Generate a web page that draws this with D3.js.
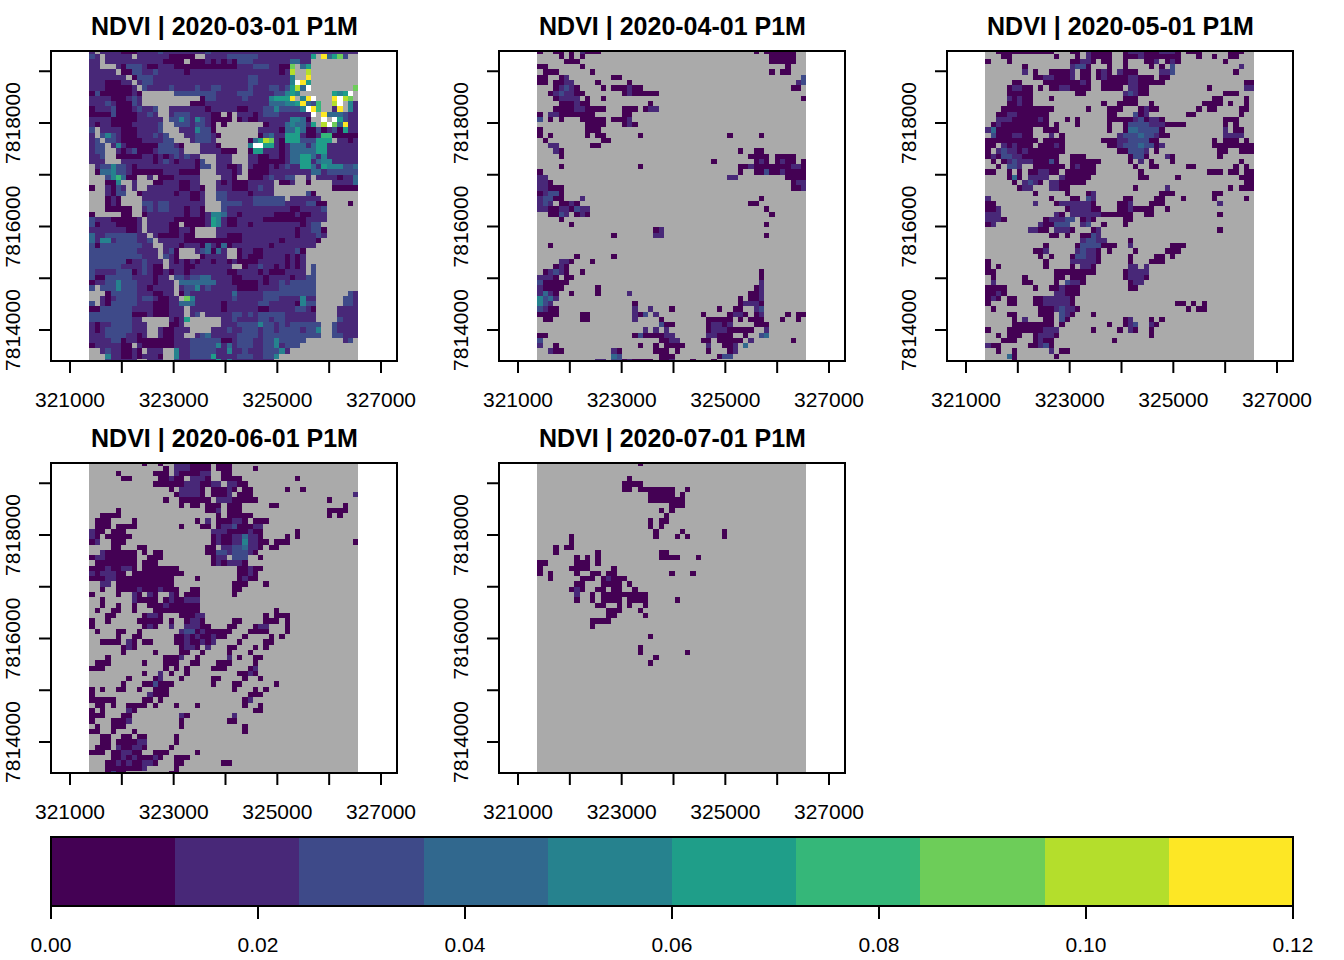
<!DOCTYPE html>
<html>
<head>
<meta charset="utf-8">
<script src="https://cdn.jsdelivr.net/npm/d3@7"></script>
<style>
  body { margin: 0; background: #fff; }
  text { font-family: "Liberation Sans", Arial, sans-serif; fill: #000; }
</style>
</head>
<body>
<script>
// each row lists the runs of cells: "from-to:class", class 0 when left out,
// g = no data (grey), w = above the colour range (white), other cells take the panel's base
var mar01 = [
"1:g 6-8 13:2 22:2",
"0:2 2:g 8:g 15-19 20-21:g 26-31:2 42:5 43:g 44:9 45:3 46:5 47:7 48:2 49-50:g",
"2:g 14-17 18:g 19-21 23 25 27 28-30:2 38-39:3 42-50:g",
"2-4:g 6 7-9:2 11-12 16-27 31-33:2 36-37 38:7 39:g 40:3 41:5 42-50:g",
"5:g 6-7 8-9:2 12:2 18 36 38:8 39-40:g 41:8 42-50:g",
"7:g 8 9-11:2 30-31:2 38:4 39-40:g 41:9 42-50:g",
"3-5 8:g 10-11:2 30-31:2 38:4 39:w 40:9 41:5 42-50:g",
"3-7 9:g 10:2 15:2 20:2 23-24:2 30:2 34-35:2 37:2 38:5 39:8 40:3 41:w 42-49:g 50:7",
"0 1:2 2-7 9 10-15:g 16-23:2 28-30:2 35-36:2 37:4 38:5 39:4 40-45:g 46:5 47:4 48:5 49:w 50:g",
"4-6 8:2 10-20:g 21 22-23:2 29:2 34:4 35-37:5 38:9 39:g 40:4 41:9 42:w 43-45:g 46:9 47:w 48:8 49:7 50:g",
"3:2 5-7 8:2 10-18:g 19-21 34-36:3 37-38:4 39:5 40:9 41:3 42:2 43:6 44-45:g 46:8 47:w 48:g 49:4",
"0 4:2 5-7 9:2 12:2 13-14:g 22 28-29 33-34:2 35:4 36-39:2 40:4 41:w 42:9 43:6 44-45:g 47:9 48:g 49:4",
"0-3 4:2 5-8 11:2 13-14:g 16-18:2 23-24 25:g 26 27:g 31 33-35:2 42:w 43:g 44:9 45-47:3 48:2",
"4-8 14:g 15-16:2 17:4 18:2 20:4 21:2 23-26 27:g 28 30-31 38-39:4 40:3 41 42-43:g 44:w 45:g 46:w 47:5 48:2",
"1 4-7 13:2 14-15:g 16-18:2 20-21:2 23 24:g 25 26-32:g 33 37:3 38:4 39-40:3 42:5 43:g 44:8 45:w 46:7 47:3 48:9",
"0:2 1:g 6-8 13:2 14-16:g 20:4 21-22:2 23 24-31:g 36 37-38:3 39:5 40:3 41-42 43:2 44 46:2 47 48:5",
"1:g 2:2 3:4 4:2 6-8 12:2 14:2 15-17:g 20-22:2 24 25-31:g 32 33:2 34:3 37-39:5 41-42 44-45:6 46-50",
"1:2 2:g 3-4:2 6-9 14-15:2 16-18:g 20-22:2 24-29:g 30 31:3 32:5 33:8 34:7 36 37-39:5 40-42:2 43-45:5 46:g 49",
"1-2:2 3:g 5:4 7-12 13-15:2 17 18-20:g 24 25-29:g 30:4 31-32:w 33-34:5 36 38-40:3 42:3 43-44:5",
"1-2:2 3-4:g 6 8:2 9-11 13-16:2 18-20:g 25-27 28-29:g 30 31-32:5 36 38-42:3 43-44:5",
"2:2 3-4:g 5-9 12 14 16:2 18:2 21-23:g 27-29:g 32-33 36 38-39:3 40-41:5 42:3 44:4",
"3-5:g 12 14:2 16 20 21:2 22-23:g 27-29:g 32-36 38-39:3 40-41:5 43:3 44-45:4",
"0:g 2-3:2 4:4 5-6:2 8 20 21-22:2 23:g 26-27 29:g 31-33 35 37:2 40-41:5 42:3 44:5 45-47:4 48-49:2 50:3",
"0:g 1 2-3:3 4:4 5-6:2 8-13 17-20 21-23:g 27 29:g 30-33 42-43:3 45-50:2",
"0-2:g 3:2 4:4 5:6 6:3 7-8 9-10:g 12:g 13-15 21-24:g 27 28-29:g 30-32 34:2 37-38:2 39-40:g 42:g 47 50:3",
"0-2:g 3-4 5:4 6-7:g 9-11:g 12-13 17-18 21-23:g 25 27-29 35:g 36-37 39-40:g 41 42-45:g 50:3",
"0 1-2:g 4 5:2 7:g 9-10:g 17-18 21 22-23:g 27-29 32:2 35-45:g 46-50",
"0-2:g 4 5-6:2 7-8:g 9 16 19-20 22-23:g 24-25:2 30 35-40:g 41:2 42 43-50:g",
"0-2:g 3 5 6-9:g 19-20 22-23:g 24-25:2 31-36:2 37:g 44-50:g",
"0-2:g 3 5 6-9:g 10-11:2 13-14:2 22-24:g 25-28:2 31-36:2 41-42:2 43-44 45-48:g 49 50:g",
"0-2:g 3-7 8-9:g 11:2 13-14:2 18 21 22-24:g 25:2 38-39 44:2 45-50:g",
"0 1-5:g 6-7 8-9:g 10 18 21 23-24:4 25:3 28 35-38 40-41 45-50:g",
"0:2 4-8 10:g 16-17 18-21 23:5 24:4 26-27 33-40 45-50:g",
"0:2 1 5-8 10:g 15-16 17:g 18-21 23:5 24:4 26-27 30 40 42-43:2 44-50:g",
"7-8 10:g 15-16 19-21 20-23:g 39 42-43:2 44 45-50:g",
"0:3 3-8:2 11:g 13-16 18-19 20-23:g 26-28 39 43:2 45-50:g",
"0:3 2-3:4 5-8:2 11:2 12:g 18-24 25-28 36 43 44-50:g",
"0:2 1 2-9:2 12-13:g 17 21 22:3 24 25:3 26 34 43-50:g",
"0-8:2 13:g 15:2 16 17-19:g 21:2 22:3 23 24:3 26-27:g 28 31-32 39:2 40 41-50:g",
"0-9:2 13:g 14:2 16 17-20:g 21 26-27:g 28 30-32 37 39 41-50:g",
"0-6:2 7 10:2 14:g 16 18 20 23 26 28-31 37 39 41-50:g",
"0-5:2 10:2 12-13 14:g 18-19 27-28:g 29 32:2 35 37 39 41:g 42:2 43-50:g",
"0:2 5-7:2 8 10:2 12-13 15 18 26-27 32 34-36 41:g 42:2 43-50:g",
"0:2 1-2 3-7:2 12 15:g 16-17:2 19-20:2 21-22:3 27-28 33 38 41-42:2 43-50:g",
"0 3-8:2 5:4 12 16:g 17-20:3 21-23:3 27-31 33 36:2 38-40:2 41-42:2 43-50:g",
"0:2 1:g 2-8:2 5:4 11 16:g 18-19:2 20:4 22:2 28-31 36-42:2 43-50:g",
"0-2:g 3 4-8:2 12-13 16:g 17 18:2 27:3 33-42:2 43-48:g 49:2",
"0-1:g 3 5-8:2 10-11:2 13-14 17:g 18:7 19:4 27:2 33-35:2 40:4 43-47:g 48-49:2",
"0:2 1:g 3 4-8:2 12-14 17-19:3 25 32-33:2 39 40:4 41-42:2 43-47:g 48-49:2",
"0-1 2-7:2 12-14 18:g 25 32-33 39-40:2 42 43-46:g",
"0-7:2 8-10 12-14 18:g 20:2 21:g 27-28:2 30:2 32-36:2 43-46:g",
"0-7:2 10-14:g 16 18:5 19-24:g 27:2 32-33:2 35-36:2 43-46:g 47:2",
"1 4-7:2 11-14:g 15-16 18-24:g 28-31:2 32:4 33-34:2 36:2 38-43:2 44-45:g 46:2",
"1 3-7:2 11-12:g 14-15 19-22:g 26:2 29-31:2 33-34:2 36-39:2 41-42:2 43:4 44-45:g 46:2",
"3-6:2 9 11-12:g 14-15 18-19:g 21:2 22:3 28-31:2 33-43:2 44-45:g 46-47:2",
"4-5:2 6 9-15 19-24:2 25-26 28-30:2 33-34:2 35:4 36-40:2 41-47:g 48:1 49:2 50:g",
"0 6-7 8:g 10-15 19-23:2 24:4 26:3 28-30:2 33-34:2 35:4 37-39:2 40-50:g",
"0-1:g 3:2 6-7 9 10:g 14-15:g 16:4 19-23:2 26:4 29:2 33-35:2 36:4 38-50:g",
"0-2:g 3:4 6-7 9 13 14-15:g 16:4 19-22:2 23:5 28-30:2 33-34:2 35:4 36-50:g",
"0-2:g 3:2 9-10:g 14-15:g 16:2 24:5 26:4 35-50:g"
];
var apr01 = [
"0 3-4 6 8:1 9-11 41 43-48",
"4 6 8 44-48",
"5-7 44-48",
"0-1 8 47",
"1-3 10 44 46-47",
"0-1 4 5:1 14-15 50:2",
"0-1 3-4 5-6:1 11 17 49:1 50:2",
"3 4:1 5:2 6:1 7 12 14-16 17:1 18-19 48-49",
"2 3:1 4:2 5-6:1 7-8 16 17:1 18-22",
"3 4-7:1 9 12 50",
"4-6 7:1 8-9 21",
"3-6 7-8:1 9-12 16-18 20 21-22:1",
"0 2-3:1 4-10 16-17",
"0:2 2 4 8-12 14-16 17:1",
"9-12 16 17:1 18",
"0 9-11",
"0 2 9 11-12 19 36 42",
"1 12-13",
"2-3:1 10-11",
"3:1 4 38 41-42",
"4 40-43 45-48",
"33 41 42:1 43 45 46:1 47-48 50",
"4 19 38-39 40:1 41-47 48-49:1 50",
"0 38 41-42 43:2 44-45 46:1 47-50",
"0-1:1 36-37:1 47-50",
"0-1:1 2 48 49-50:1",
"0-1:1 2-4 48-49 50:1",
"0 1:1 2-3:2 4",
"0:1 1-2:2 3-4 8:1 42",
"0:1 1:2 2:1 4-5 6:1 7 40-41",
"0-1:1 2-3 4-5:1 6 7:2 8-9:1 43",
"2-3 4:2 5:1 7 8:1 9 44",
"4",
"6 43",
"22 23:1",
"14 22-23:1 43",
"",
"2",
"",
"7 14",
"4-5:1 6 10",
"3 4:1 5",
"1 2:1 3:2 4:1 5 8 42",
"0-2:1 3 5-6 42",
"0:2 1-3 4-5 42:1",
"0:1 1-4 11 41 42:1",
"0:1 1:3 2:1 3 6 11 17:1 40-41 42:1",
"0:4 1:2 2:3 3:1 38 40-41 42:1",
"0:4 1:2 2:1 18 38 39-41:1 42",
"0:2 1:1 2-3 18:1 21:1 25 34 37-38 41:1 42:2",
"0-3 8-9 18:1 19 20:2 22:1 31 36 37-38:1 39 41 42:1 47 49-50",
"1-2 8-9 18:1 23 32-36 38 40-42 46 49",
"23:2 24-25 32 33-34:1 35 36:1 41-43",
"20:1 22:1 24:1 32 33-35:1 36-40 43:1",
"0-1 18 19:2 20-23 24-25:1 32-33:1 34-36 39 42:2 43:3",
"0:2 23-24 25-26:1 31-32 34-38 40:1 48",
"0:1 3 19 22 24-27 32:1 35-36 37:1 39:3",
"2:1 3-4 14:1 15 22-24 26 32 36 37:1",
"14:3 15:2 23-25 34 35-36:2",
"11-12:1 14-15:2 16-21 17:1 23-24 25:1 29 33"
];
var may01 = [
"2-12 16-17 19:1 20-22 23 26 27-29:1 30-32 33-35:1 36 38-40 46-48",
"3-4 13 17 19:1 20-22 23 26-28 29:1 30-36 40 43 46-47",
"0 4 16-17 18-19:1 20 22-23 26 30-31 32:1 34 35:1 36 45",
"7 16:1 17-18:2 19 23 26 31 33 35:2 48:1",
"7:1 9 12-15 16:1 18-19 21 22:1 23 25:1 26-28 33-34:1 35:2 47",
"9-10 11-12:1 13-15 16:1 18-19 21 22:1 23-26 27-28:1 29-31 33-34",
"5-6 11-15 16-17 18:1 19 22-26 27-28:1 29-33 49-50",
"4 5-6:1 7-8 10 12-13 14-15:1 16-19 22-25 27-28:1 29-30 42 49-50:1",
"4-8 17-18 26:1 27:2 28:1 29-30 45-47",
"4:1 5 6:1 7-8 12 26-28 43-44 49",
"4-5 6:1 7-8 22 25-28 31 41-44 46 49",
"3-12 19 23-25 29 30:1 31-32 40 42-43 48-49",
"2-3 4-5:1 6-11 23-24 28:2 29 30:1 38-39 48",
"2-4:1 5-9 10:1 11 15 17 23-27 28:1 29:2 30 31-32:1 33 45-47",
"1 2:1 3-11 13 17 23 26 27-29:2 30:2 31-33:1 34-37 45 47",
"0:1 1:3 2-8 11-13 23 26 27-28:3 29-32:2 33 45:1 47-48",
"1:2 2-4 5-6:1 7-8 12:1 14 25:1 26-28:2 29:3 30-31:2 32:1 33-34 45-48:1",
"0-2 3-9 11-14 22-24 25-26:1 27-30:2 31-32 43 45-47 49",
"0-1 3:1 4 5:1 6-8 10-12 13:1 14 23-24 25:1 26-28:2 29:3 30-31:2 32 33:1 43-47 48-50",
"0 2:1 3:2 4-5:1 6 7:1 8-14 25-26 27-29:2 30:1 32 44-45 48-50",
"0 1:1 2 3-4:2 5-6:1 7-13 16-18 27 28-29:2 30 34:1 35 44",
"1 3 4:1 5:2 6-8:1 9-11 12:2 13 16-21 27 29:1 31 35 48",
"2 4-5:2 6:1 9-14 16 17:1 18-20 28 31-32 38-39 47 49",
"0-1 4 6 8-9 10-11:1 12-13 15-20 29 42-44 46-47 49-50",
"4 5:3 6 8-11:1 14:1 15-19 29-30 36 48-50",
"5 7:1 8:2 9:1 10 12-13:1 14-18 49-50",
"6 7-8:1 12-13:1 14-15 28 34:1 46 48-50",
"9 15 19 20:1 33-35 43-44",
"0:1 12 16-17 19:2 20:1 26-27 32-33 37 43 49",
"0-1 9:1 13 14-17:1 18-19:1 20 25-26 27:1 31-33 44:1",
"0-1 2:1 15 16-19:1 20-21 25-26 27:1 28-31 34",
"0-2:1 13:1 14 16-19:1 20-21:1 22-27 30-31 44",
"0-2:1 3 11 12-14:1 15-16:2 18 19:1 20 26-27",
"0 1:1 10:1 11-12 13-15:2 18:1 19:2 22 26",
"8-9:1 10-11 13-15:1 16 20 21:1 44",
"12-13 15 18-19 20:2 21:1",
"18:1 19-20:2 21-22:1 27",
"11 17 18-21:2 22-24 27:1 35-37",
"9-10 11:1 17:1 18:2 19-20:1 21 23 28 34-36",
"10 12 16 17-18:2 19-20:1 21 27 32-33 35",
"0 11 16-20:1 21 27 31-33",
"0 2 11 16 18-19:1 20 27-28:1 30:1",
"0-1 13-18 19 20 26 27-30:1",
"1 7 13-14 16-18 26 27-29:1 30",
"1:1 7-8 13 15:2 16-17:1 18 27 28-29:1",
"0-3 9 12-13 14:1 15-17 27-28",
"0-1 2:1 3 13-14:1 15-17",
"0 1:1 2 4-5 9-10 11-15:1 16",
"0 4-5 9-10 11-15:1 16 36-37 39 41",
"1 10-12 13:1 14:2 15-16:1 17 38 40-41",
"4-5 10-12 14:2 15:1 16 20",
"5 7:1 11-12 14:2 15 26 27:1 31 33",
"5-10 11-12 14 23 26 27:1 28:2 31:1 32",
"0 4-7 8-10 11-13:1 20 25 27:1 28 31",
"2 4-6 9 10-12:1 13 31",
"3-5 9 10:1 11-12 24",
"0:1 1-2 8-9 10:1 11:2 12",
"2 5 12:1 14-15",
"4:3 5 13",
"5"
];
var jun01 = [
"10 13 16-18:1 19-22 24-26",
"14 16-18:1 19-22 24-26 31",
"5 12-14 16:1 17-18 19-20 21-22:1 25-26",
"6-7 13-14 15:1 16-17 19-21:1 22 25-28 39",
"12-15 16-17 18-20:1 21-22 23-24:1 26-27:1 28-29",
"15 17-20:1 21 23-25 26:1 27 29-30 37 40",
"16 17-20:1 21 23-25 26:1 28-30 50:1",
"14 17-22 24-26:1 27-31 45",
"17 19-20 22-24 26-28 34-35 48",
"5 22-23 24:1 26-28 45-48",
"2-5 24 26-30 45 47",
"1-3 8 20 22:1 24-26 27-28:1 29 31-33",
"1-3 5-8 17 21-22 24 25-26:1 27:2 28-30 31-32:1",
"0:1 1-2 4-6 23-25:1 26-29 30:1 31-32 39",
"0:1 1 3-7 23 24:1 25-26 27-28:1 29:3 30-31:1 32 37 39",
"0 1:1 4-6 23 24:1 25-26 27-28:1 29:4 30-31:1 32-33 35-37 50",
"4-5 9-10 22-23 25-26:1 27-28:2 29:3 30-31:1 32 34-35",
"2:1 3-8 10 12-13 22-23 24-25:2 26:1 27-29:2 30:1 31",
"0 1-2:1 3-8 11-13 23 24-25:1 27-29:2 32",
"1-8 10-12 23 24:1 25 26-28:1 29",
"0-2 3:1 4-5 6-7:1 8 10-16 28 29 30:1 31-32",
"0:1 1 2-4:1 5-6 8-17 28-29 30:1 31",
"0-2 3-4:1 5-15 20 28 29:1 30-31",
"2-3:1 5-15 27-29 33",
"2 5-8 9:1 10-12 13:1 14-16 19-20 27-28",
"0 5 8:1 9 11:1 12 15:1 16 18-20 27",
"2 8:1 9-12 14 15:1 16-17 18-20:1",
"2 5 8 11-13 14:1 15-20",
"1 4-5 8 12-20 35",
"3-4 10 11-12:1 13 17-19 20-21:1 33 35-37",
"0 3 9-13 15 18 19-20:1 21 27-28 33-35 37",
"0 10 11:1 12 15:1 18:1 19-20:1 21-22 26-27 31 32-33:1 37",
"1 5-6 9 17:1 18-19:2 20 21:1 22-26 30-33 37",
"5 8-9 16-17 18:1 19 20:1 21-22 23:1 24-25 29 34 36",
"2-5 7:1 8 10-11 16-17 18:1 19-20 21:1 22 23:1 28 33-34",
"6 7:1 8 17 18-19:1 20 22:1 26-27 31 33",
"6 12 17-18 21 26 30",
"3 14-16 17:1 20 26:1 28 31-32",
"1-3 10 14-16 19-20 24-26 31",
"0-2 14 16 18 23-25 30 31:1",
"10 13:1 15 18 28-29 30:1 31",
"7 12 13:1 17 23-24 29 32",
"6 10-11 12:2 13-15 23 27-28 35",
"0 2 5-6 9 12-14 27 31 33",
"0 11:1 12-14 30-32",
"0-4 10-11 13 29 30:1",
"1-2 4 7-10 12 16 20 29 32",
"0 2 7:1 8 31-32",
"0-2 6-7 17:1 18 27:1",
"0 4-6 7:1 17 26-27",
"1 4-6 17 29",
"0-1 4 8 29",
"2-3 6-7 9-10 16",
"2-3 5-8 9-10:1 16",
"1-3 5:1 6-7 8-9:1 10 15",
"0-2 4-5 6-7:1 8-9 12-14 20",
"4-5 6:1 7 8:1 9-11 12:1 13 16-18",
"3-4 5:1 6 7:1 8-9 10-11:1 12 16-17 25-26",
"3-9 10:1 16",
"3 4:2 5-6 15-16"
];
var jul01 = [
"19","","","17","16-19","16-17 19-25 28","21-25 27","21-27","25-27","23 25","24","21 23-24","21 23",
"22 27 35","6 22 26 28 35","6","3 5-6","3 11 23-24","7 9 11 23-26 30","0-1 7-9 11","0 6-9 14",
"0 2 7 10-11 13-14 25 29","2 8-10 12 13:1 14-16","7-8 12-15 17","6 7:1 8 11-12 14-15 18",
"7:1 10 12-20","7 10 12-15 17-20 26","11-12 15 17 20","13-15 19","13-14 20","10-13","10","",
"21","","19","19 28","22","21","","","","","","","","","","","","","","","","","","","","",""
];

var panels = [
  { title: "NDVI | 2020-03-01 P1M", rows: mar01, base: 1 },
  { title: "NDVI | 2020-04-01 P1M", rows: apr01, base: "g" },
  { title: "NDVI | 2020-05-01 P1M", rows: may01, base: "g" },
  { title: "NDVI | 2020-06-01 P1M", rows: jun01, base: "g" },
  { title: "NDVI | 2020-07-01 P1M", rows: jul01, base: "g" }
];

var xTicks = [321000, 322000, 323000, 324000, 325000, 326000, 327000];
var xLabels = [321000, 323000, 325000, 327000];
var yTicks = [7814000, 7815000, 7816000, 7817000, 7818000, 7819000];
var yLabels = [7814000, 7816000, 7818000];
var legendBreaks = [0, 0.012, 0.024, 0.036, 0.048, 0.06, 0.072, 0.084, 0.096, 0.108, 0.12];
var legendTicks = [0, 0.02, 0.04, 0.06, 0.08, 0.1, 0.12];
var viridis10 = ["#440154", "#482878", "#3E4A89", "#31688E", "#26828E", "#1F9E89", "#35B779", "#6DCD59", "#B4DE2C", "#FDE725"];

var xOrigin = 321376, yOrigin = 7819441, cell = 101.7; // raster corner and cell size, metres
var nCols = 51, nRows = 60;

var width = 1344, height = 960;
var panelW = 346, panelH = 310;

var svg = d3.select("body").append("svg")
    .attr("width", width)
    .attr("height", height)
    .style("display", "block");

svg.append("defs").append("clipPath").attr("id", "frame")
  .append("rect").attr("width", panelW).attr("height", panelH);

var x = d3.scaleLinear().domain([321000, 327000]).range([19, 330]);
var y = d3.scaleLinear().domain([7814000, 7818000]).range([279, 72]);

function cellColor(c) {
  if (c === "g") return "#AAAAAA";
  if (c === "w") return "#FFFFFF";
  return viridis10[c];
}

function parseRow(text, r, base) {
  var row = d3.range(nCols).map(function() { return base; });
  text.split(" ").filter(Boolean).forEach(function(tok) {
    var parts = tok.split(":"), span = parts[0].split("-");
    var from = +span[0], to = span.length > 1 ? +span[1] : from;
    var c = parts.length > 1 ? (parts[1] === "g" || parts[1] === "w" ? parts[1] : +parts[1]) : 0;
    for (var i = from; i <= to && i < nCols; i++) row[i] = c;
  });
  return row.map(function(c, i) { return { r: r, c: i, v: c }; });
}

panels.forEach(function(p, i) {
  var g = svg.append("g")
      .attr("transform", "translate(" + (51 + 448 * (i % 3)) + "," + (51 + 412 * Math.floor(i / 3)) + ")");

  var cells = d3.merge(p.rows.map(function(t, r) { return parseRow(t, r, p.base); }));

  g.append("g").attr("clip-path", "url(#frame)")
    .selectAll("rect").data(cells).enter().append("rect")
      .attr("x", function(d) { return x(xOrigin + d.c * cell); })
      .attr("y", function(d) { return y(yOrigin - d.r * cell); })
      .attr("width", function(d) { return x(xOrigin + (d.c + 1) * cell) - x(xOrigin + d.c * cell); })
      .attr("height", function(d) { return y(yOrigin - (d.r + 1) * cell) - y(yOrigin - d.r * cell); })
      .attr("fill", function(d) { return cellColor(d.v); })
      .attr("shape-rendering", "crispEdges");

  g.append("rect")
      .attr("width", panelW).attr("height", panelH)
      .attr("fill", "none").attr("stroke", "#000").attr("stroke-width", 2);

  var xAxis = d3.axisBottom(x).tickValues(xTicks).tickSize(12).tickPadding(19).offset(0)
      .tickFormat(function(d) { return xLabels.indexOf(d) >= 0 ? d : ""; });
  var ax = g.append("g").attr("transform", "translate(0," + panelH + ")").call(xAxis);
  ax.select(".domain").remove();
  ax.selectAll("line").attr("stroke", "#000").attr("stroke-width", 2);
  ax.selectAll("text").attr("font-size", 21).attr("font-family", "Liberation Sans").attr("fill", "#000");

  var yAxis = d3.axisLeft(y).tickValues(yTicks).tickSize(12).tickPadding(0).offset(0)
      .tickFormat(function(d) { return yLabels.indexOf(d) >= 0 ? d : ""; });
  var ay = g.append("g").call(yAxis);
  ay.select(".domain").remove();
  ay.selectAll("line").attr("stroke", "#000").attr("stroke-width", 2);
  ay.selectAll("text")
      .attr("font-size", 21).attr("font-family", "Liberation Sans").attr("fill", "#000")
      .attr("x", null).attr("dy", null).attr("text-anchor", "middle")
      .attr("transform", "translate(-31,0) rotate(-90)");

  g.append("text")
      .attr("x", 173.5).attr("y", -16)
      .attr("text-anchor", "middle")
      .attr("font-size", 25).attr("font-weight", "bold")
      .text(p.title);
});

// colour bar
var lx = d3.scaleLinear().domain([0, 0.12]).range([51, 1293]);
var legend = svg.append("g").attr("transform", "translate(0,837)");
legend.selectAll("rect").data(viridis10).enter().append("rect")
    .attr("x", function(d, i) { return lx(legendBreaks[i]); })
    .attr("width", function(d, i) { return lx(legendBreaks[i + 1]) - lx(legendBreaks[i]); })
    .attr("height", 69)
    .attr("fill", function(d) { return d; })
    .attr("shape-rendering", "crispEdges");
legend.append("rect")
    .attr("x", 51).attr("width", 1242).attr("height", 69)
    .attr("fill", "none").attr("stroke", "#000").attr("stroke-width", 2);
var lAxis = d3.axisBottom(lx).tickValues(legendTicks).tickSize(13).tickPadding(18).offset(0).tickFormat(d3.format(".2f"));
var la = legend.append("g").attr("transform", "translate(0,69)").call(lAxis);
la.select(".domain").remove();
la.selectAll("line").attr("stroke", "#000").attr("stroke-width", 2);
la.selectAll("text").attr("font-size", 21).attr("font-family", "Liberation Sans").attr("fill", "#000");
</script>
</body>
</html>
